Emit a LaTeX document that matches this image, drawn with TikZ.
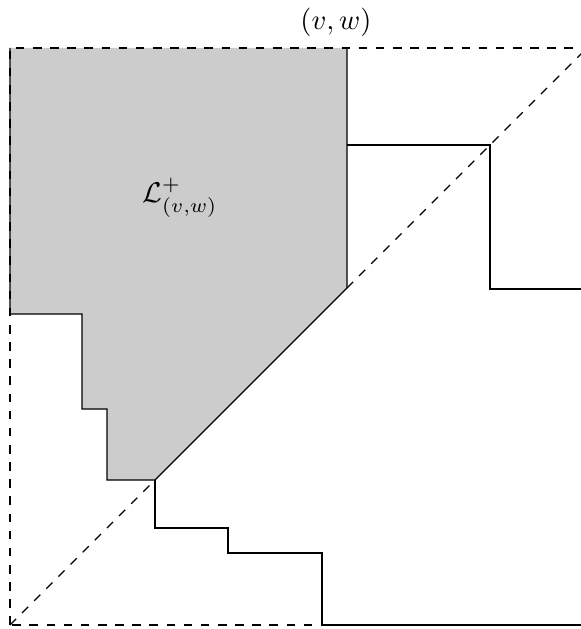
\documentclass[tikz,border=0pt]{standalone}
\begin{document}
\begin{tikzpicture}[x=0.35pt,y=-0.35pt,
  region/.style={fill=black!20},
  frame/.style={dashed, line width=0.45pt},
  bound/.style={line width=0.45pt}]
\useasboundingbox (0,0) rectangle (581,629);
\coordinate (A) at (10,48);
\coordinate (B) at (347,48);
\coordinate (C) at (347,288);
\coordinate (D) at (155,480);
\coordinate (E) at (107,480);
\coordinate (F) at (107,409);
\coordinate (G) at (82,409);
\coordinate (H) at (82,314);
\coordinate (I) at (10,314);
\coordinate (O) at (10,625);
\coordinate (TR) at (587,48);
\fill[region] (A) -- (B) -- (C) -- (D) -- (E) -- (F) -- (G) -- (H) -- (I) -- cycle;
\draw[frame] (O) -- (D);
\draw[frame] (C) -- (TR);
\draw[frame] (O) rectangle (TR);
\draw[bound] (A) -- (I) -- (H) -- (G) -- (F) -- (E) -- (D) -- (C) -- (B);
\coordinate (P1) at (347,145);
\coordinate (P2) at (490,145);
\coordinate (P3) at (490,289);
\coordinate (P4) at (587,289);
\draw[bound] (P1) -- (P2) -- (P3) -- (P4);
\coordinate (Q1) at (155,528);
\coordinate (Q2) at (228,528);
\coordinate (Q3) at (228,553);
\coordinate (Q4) at (322,553);
\coordinate (Q5) at (322,625);
\coordinate (Q6) at (587,625);
\draw[bound] (D) -- (Q1) -- (Q2) -- (Q3) -- (Q4) -- (Q5) -- (Q6);
\node (vw) at (336,22) {$(v,w)$};
\node (L) at (180,198) {$\mathcal{L}^+_{(v,w)}$};
\end{tikzpicture}
\end{document}
